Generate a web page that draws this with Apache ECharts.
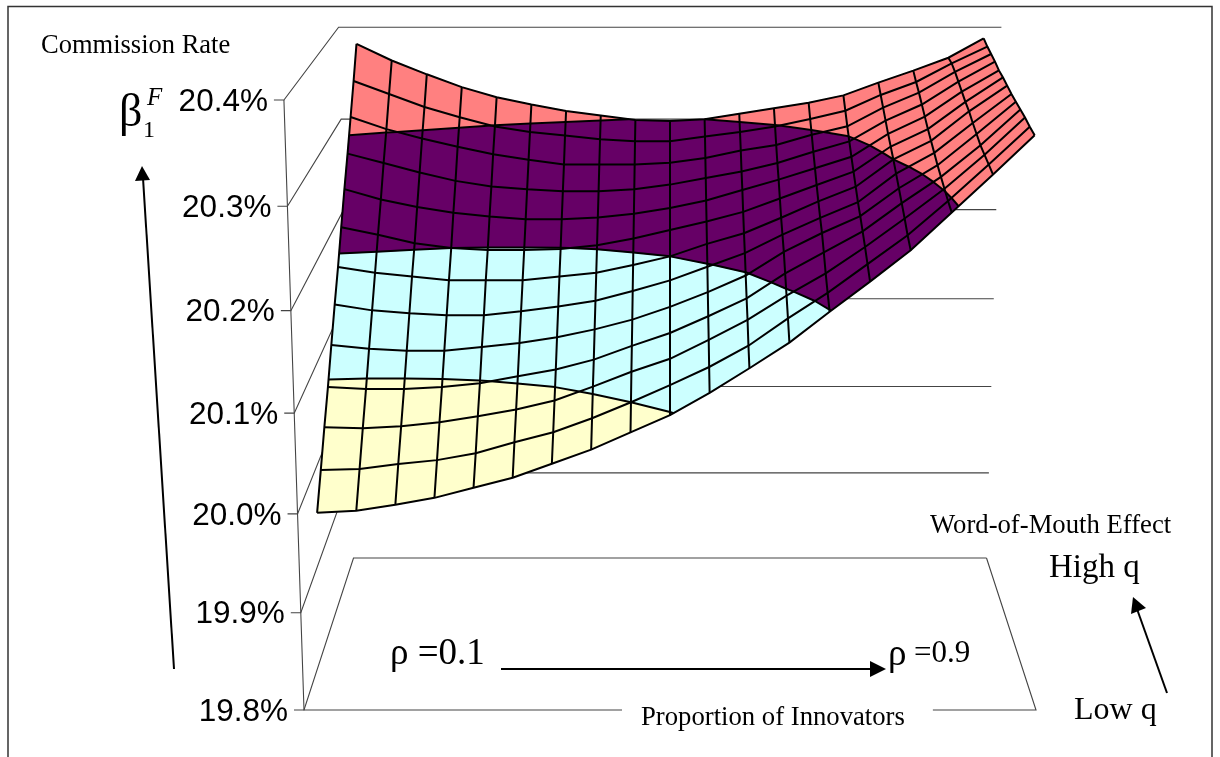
<!DOCTYPE html>
<html>
<head>
<meta charset="utf-8">
<title>Commission Rate surface</title>
<style>
  html, body { margin: 0; padding: 0; background: #fff; }
  #chart { width: 1220px; height: 757px; }
</style>
<script src="https://cdn.jsdelivr.net/npm/echarts@6/dist/echarts.min.js"></script>
</head>
<body>
<div id="chart"></div>
<script>
// Commission rate (%): one list per q row, high q (back) to low q (front),
// each with one value per rho step from 0.1 to 0.9
const qRow13 = [20.382, 20.364, 20.349, 20.335, 20.324, 20.316, 20.309, 20.304, 20.299, 20.298, 20.300, 20.306, 20.312, 20.318, 20.326, 20.340, 20.353, 20.367, 20.388]
const qRow12 = [20.348, 20.334, 20.320, 20.309, 20.299, 20.293, 20.289, 20.285, 20.283, 20.283, 20.288, 20.293, 20.299, 20.307, 20.316, 20.333, 20.347, 20.367, 20.385]
const qRow11 = [20.316, 20.303, 20.293, 20.284, 20.276, 20.270, 20.265, 20.265, 20.265, 20.267, 20.272, 20.280, 20.286, 20.297, 20.306, 20.326, 20.342, 20.364, 20.383]
const qRow10 = [20.284, 20.274, 20.264, 20.255, 20.249, 20.246, 20.244, 20.244, 20.246, 20.251, 20.258, 20.265, 20.274, 20.286, 20.297, 20.319, 20.336, 20.360, 20.381]
const qRow09 = [20.254, 20.243, 20.235, 20.229, 20.225, 20.222, 20.222, 20.224, 20.228, 20.234, 20.242, 20.253, 20.264, 20.276, 20.288, 20.312, 20.330, 20.356, 20.378]
const qRow08 = [20.222, 20.214, 20.205, 20.200, 20.198, 20.198, 20.199, 20.203, 20.210, 20.219, 20.228, 20.238, 20.252, 20.266, 20.280, 20.306, 20.324, 20.352, 20.377]
const qRow07 = [20.189, 20.183, 20.179, 20.175, 20.175, 20.175, 20.179, 20.183, 20.191, 20.200, 20.213, 20.224, 20.240, 20.257, 20.272, 20.300, 20.319, 20.349, 20.375]
const qRow06 = [20.159, 20.153, 20.150, 20.148, 20.148, 20.152, 20.157, 20.163, 20.173, 20.184, 20.198, 20.212, 20.231, 20.248, 20.264, 20.293, 20.314, 20.344, 20.373]
const qRow05 = [20.127, 20.123, 20.121, 20.121, 20.125, 20.129, 20.135, 20.143, 20.153, 20.166, 20.181, 20.198, 20.222, 20.241, 20.258, 20.286, 20.309, 20.340, 20.372]
const qRow04 = [20.094, 20.092, 20.092, 20.094, 20.098, 20.105, 20.112, 20.122, 20.136, 20.149, 20.166, 20.184, 20.209, 20.230, 20.251, 20.279, 20.305, 20.336, 20.371]
const qRow03 = [20.064, 20.063, 20.065, 20.069, 20.075, 20.082, 20.091, 20.105, 20.120, 20.133, 20.152, 20.172, 20.196, 20.218, 20.244, 20.272, 20.301, 20.334, 20.370]
const qRow02 = [20.032, 20.033, 20.038, 20.042, 20.049, 20.060, 20.070, 20.084, 20.100, 20.117, 20.135, 20.156, 20.183, 20.208, 20.236, 20.264, 20.297, 20.332, 20.368]
const qRow01 = [20.001, 20.003, 20.009, 20.016, 20.026, 20.036, 20.050, 20.064, 20.081, 20.098, 20.120, 20.144, 20.169, 20.199, 20.228, 20.258, 20.294, 20.330, 20.367]
const surfaceRows = [qRow13, qRow12, qRow11, qRow10, qRow09, qRow08, qRow07, qRow06, qRow05, qRow04, qRow03, qRow02, qRow01]

// Vertical axis
const rateTicks = [19.8, 19.9, 20.0, 20.1, 20.2, 20.3, 20.4]
const rateLabels = ['19.8%', '19.9%', '20.0%', '20.1%', '20.2%', '20.3%', '20.4%']

// Colour bands, one per tick interval
const bandColors = ['#ffffff', '#ffffff', '#ffffcc', '#ccffff', '#660066', '#ff8080']

const rhoCount = qRow01.length
const qCount = surfaceRows.length
const rateMin = rateTicks[0]
const rateMax = rateTicks[rateTicks.length - 1]
const meshWidth = 2

// 3D box to picture coordinates. u: along rho, v: depth (0 front, 1 back), h: height 0..1
const project = (u, v, h) => {
  const d = 1 + 0.1564 * v - 0.052 * h
  return [670 + 732 * (u - 0.5) / d, (710 - 64.7 * v - 615.2 * h) / d]
}

const toHeight = (rate) => (rate - rateMin) / (rateMax - rateMin)

// Node of the surface as [u, v, rate]
const node = (i, j) => [(i + 0.5) / rhoCount, (qCount - 1 - j) / (qCount - 1), surfaceRows[j][i]]

const cellQuad = (i, j) => [node(i, j), node(i + 1, j), node(i + 1, j + 1), node(i, j + 1)]

const lerpNode = (a, b, level) => {
  const t = (level - a[2]) / (b[2] - a[2])
  return [a[0] + (b[0] - a[0]) * t, a[1] + (b[1] - a[1]) * t, level]
}

// Keep the part of a cell on one side of a rate level
const clipPoly = (poly, level, keepAbove) => {
  const out = []
  poly.forEach((p, k) => {
    const q = poly[(k + 1) % poly.length]
    const pIn = keepAbove ? p[2] >= level : p[2] <= level
    const qIn = keepAbove ? q[2] >= level : q[2] <= level
    if (pIn) out.push(p)
    if (pIn !== qIn) out.push(lerpNode(p, q, level))
  })
  return out
}

const toPoints = (api, nodes) => nodes.map(n => api.coord(project(n[0], n[1], toHeight(n[2]))))

const lineStyle = (color, width) => ({ fill: null, stroke: color, lineWidth: width })

// Filled cell, split on the rate bands
const renderCell = (params, api) => {
  const quad = cellQuad(api.value(0), api.value(1))
  const children = []
  for (let b = 0; b < rateTicks.length - 1; b++) {
    let poly = clipPoly(quad, rateTicks[b], true)
    // the top band also takes anything above the last tick
    if (poly.length && b < rateTicks.length - 2) poly = clipPoly(poly, rateTicks[b + 1], false)
    if (poly.length < 3) continue
    children.push({
      type: 'polygon',
      shape: { points: toPoints(api, poly) },
      style: { fill: bandColors[b], stroke: bandColors[b], lineWidth: 0.6 }
    })
  }
  return { type: 'group', children }
}

// Black edge between two colour bands inside a cell
const renderBandEdge = (params, api) => {
  const quad = cellQuad(api.value(0), api.value(1))
  const children = []
  rateTicks.forEach(level => {
    const hits = []
    quad.forEach((p, k) => {
      const q = quad[(k + 1) % 4]
      // >= so a node sitting right on a level still counts as one crossing
      if ((p[2] >= level) !== (q[2] >= level)) hits.push(lerpNode(p, q, level))
    })
    for (let k = 0; k + 1 < hits.length; k += 2) {
      children.push({
        type: 'polyline',
        shape: { points: toPoints(api, [hits[k], hits[k + 1]]) },
        style: lineStyle('#000', meshWidth)
      })
    }
  })
  return { type: 'group', children }
}

// Row and column lines of the surface mesh
const renderRow = (params, api) => {
  const j = api.value(0)
  const nodes = surfaceRows[j].map((_, i) => node(i, j))
  return { type: 'polyline', shape: { points: toPoints(api, nodes) }, style: lineStyle('#000', meshWidth) }
}

const renderCol = (params, api) => {
  const i = api.value(0)
  const nodes = surfaceRows.map((_, j) => node(i, j))
  return { type: 'polyline', shape: { points: toPoints(api, nodes) }, style: lineStyle('#000', meshWidth) }
}

const wallColor = '#444'
const labelFont = '31.5px "Liberation Sans", Arial, sans-serif'

// Side wall, back wall, tick and tick label of one rate level
const renderWall = (params, api) => {
  const k = api.value(0)
  const h = toHeight(rateTicks[k])
  const front = api.coord(project(0, 0, h))
  const back = api.coord(project(0, 1, h))
  const backRight = api.coord(project(1, 1, h))
  return {
    type: 'group',
    children: [
      { type: 'polyline', shape: { points: [[front[0] - 10, front[1]], front, back, backRight] }, style: lineStyle(wallColor, 1.1) },
      { type: 'text', style: { text: rateLabels[k], x: front[0] - 16, y: front[1] + 2, align: 'right', verticalAlign: 'middle', font: labelFont, fill: '#000' } }
    ]
  }
}

// Front axis, right floor edge
const renderBox = (params, api) => {
  const top = api.coord(project(0, 0, 1))
  const bottom = api.coord(project(0, 0, 0))
  const frontRight = api.coord(project(1, 0, 0))
  const backRight = api.coord(project(1, 1, 0))
  return {
    type: 'group',
    children: [
      { type: 'polyline', shape: { points: [top, bottom, frontRight, backRight] }, style: lineStyle(wallColor, 1.1) }
    ]
  }
}

const cellData = []
for (let j = 0; j < qCount - 1; j++) {
  for (let i = 0; i < rhoCount - 1; i++) cellData.push([i, j])
}

const serif = '"Liberation Serif", "Times New Roman", serif'

const caption = (text, x, y, size, extra) => ({
  type: 'text',
  x, y,
  silent: true,
  z: 20,
  style: Object.assign({ text, fontFamily: serif, fontSize: size, fill: '#000', align: 'left', verticalAlign: 'middle' }, extra)
})

const arrowLine = (x1, y1, x2, y2) => ({
  type: 'line',
  silent: true,
  z: 20,
  shape: { x1, y1, x2, y2 },
  style: { stroke: '#000', lineWidth: 2 }
})

const arrowHead = (points) => ({
  type: 'polygon',
  silent: true,
  z: 20,
  shape: { points },
  style: { fill: '#000' }
})

const customBase = { type: 'custom', coordinateSystem: 'cartesian2d', silent: true, clip: false }

const option = {
  animation: false,
  backgroundColor: '#fff',
  grid: { left: 0, right: 0, top: 0, bottom: 0 },
  xAxis: { type: 'value', min: 0, max: 1220, show: false },
  yAxis: { type: 'value', min: 0, max: 757, inverse: true, show: false },
  series: [
    { ...customBase, z: 1, renderItem: renderWall, data: rateTicks.map((_, k) => [k]) },
    { ...customBase, z: 1, renderItem: renderBox, data: [[0]] },
    { ...customBase, z: 2, renderItem: renderCell, data: cellData },
    { ...customBase, z: 3, renderItem: renderBandEdge, data: cellData },
    { ...customBase, z: 3, renderItem: renderRow, data: surfaceRows.map((_, j) => [j]) },
    { ...customBase, z: 3, renderItem: renderCol, data: qRow01.map((_, i) => [i]) }
  ],
  graphic: [
    // frame, open at the bottom
    { type: 'polyline', silent: true, z: 20, shape: { points: [[8, 757], [8, 6.5], [1212, 6.5], [1212, 757]] }, style: { fill: null, stroke: '#333', lineWidth: 1.5 } },

    caption('Commission Rate', 41, 46, 26.5),
    caption('β', 119, 114, 46),
    caption('F', 147, 98, 25, { fontStyle: 'italic' }),
    caption('1', 143, 131, 24),
    arrowLine(174, 669, 143, 178),
    arrowHead([[142, 166], [135, 181], [150, 180]]),

    caption('ρ =0.1', 390, 654, 37),
    arrowLine(501, 669, 874, 669),
    arrowHead([[886, 669], [870, 661], [870, 677]]),
    caption('ρ', 888, 655, 37),
    caption('=0.9', 914, 654, 31),

    caption('Proportion of Innovators', 622, 718, 26.7, { backgroundColor: '#fff', padding: [1, 28, 1, 19] }),
    caption('Word-of-Mouth Effect', 930, 526, 26.7),
    caption('High q', 1049, 568, 33),
    caption('Low q', 1074, 711, 32),
    arrowLine(1167, 693, 1137, 609),
    arrowHead([[1133, 597], [1131, 614], [1146, 608]])
  ]
}

const chart = echarts.init(document.getElementById('chart'), null, { renderer: 'canvas' })
chart.setOption(option)
</script>
</body>
</html>
